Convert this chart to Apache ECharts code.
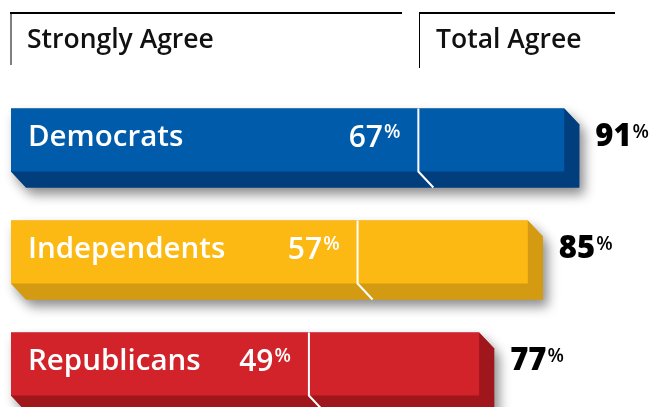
<!DOCTYPE html>
<html>
<head>
<meta charset="utf-8">
<style>
html,body{margin:0;padding:0;background:#fff;}
#chart{width:654px;height:407px;}
</style>
<script src="https://cdn.jsdelivr.net/npm/echarts@6/dist/echarts.min.js"></script>
</head>
<body>
<div id="chart"></div>
<script>
// ---- data ----
const categories = ['Democrats', 'Independents', 'Republicans'];
const stronglyAgree = [67, 57, 49];
const totalAgree = [91, 85, 77];
const headers = ['Strongly Agree', 'Total Agree'];

// ---- styles ----
const frontColors = ['#005BAA', '#FDB913', '#D2232B'];
const darkColors = ['#003E7E', '#D49B12', '#9F161C'];
const DX = 15, DY = 16;
const FONT = '"Open Sans", Lato, sans-serif';

const chart = echarts.init(document.getElementById('chart'), null, {renderer: 'canvas'});

const data = categories.map((c, i) => [i, stronglyAgree[i], totalAgree[i]]);

function renderItem(params, api) {
  const i = api.value(0);
  const s = api.value(1);
  const t = api.value(2);
  const p0 = api.coord([0, i]);
  const ps = api.coord([s, i]);
  const pt = api.coord([t, i]);
  const band = api.size([0, 1])[1];
  const h = band * 0.5625;
  const x0 = p0[0], xs = ps[0], x1 = pt[0];
  const top = p0[1] - h / 2;
  const bot = top + h;
  const front = frontColors[i], dark = darkColors[i];
  const children = [];
  children.push({
    type: 'polygon',
    shape: {points: [[x0, top], [x1, top], [x1 + DX, top + DY], [x1 + DX, bot + DY], [x0 + DX, bot + DY], [x0, bot]]},
    style: {fill: dark, shadowBlur: 12, shadowColor: 'rgba(0,0,0,0.45)', shadowOffsetX: 5, shadowOffsetY: 7}
  });
  children.push({
    type: 'polygon',
    shape: {points: [[x0, bot], [x1, bot], [x1 + DX, bot + DY], [x0 + DX, bot + DY]]},
    style: {fill: dark}
  });
  children.push({
    type: 'polygon',
    shape: {points: [[x1, top], [x1 + DX, top + DY], [x1 + DX, bot + DY], [x1, bot]]},
    style: {fill: dark}
  });
  children.push({
    type: 'rect',
    shape: {x: x0, y: top, width: x1 - x0, height: h},
    style: {fill: front}
  });
  children.push({
    type: 'polyline',
    shape: {points: [[xs, top], [xs, bot], [xs + DX, bot + DY]]},
    style: {stroke: '#ffffff', lineWidth: 2, fill: null}
  });
  const cy = top + h / 2 - 2;
  children.push({
    type: 'text',
    x: x0 + 17, y: cy,
    style: {text: categories[i], fill: '#fff', font: '600 29.5px ' + FONT, verticalAlign: 'middle', align: 'left'}
  });
  children.push({
    type: 'text',
    x: xs - 18, y: cy,
    style: {
      text: '{n|' + s + '}{p|%}',
      align: 'right', verticalAlign: 'middle',
      rich: {
        n: {fill: '#fff', fontFamily: FONT, fontWeight: 600, fontSize: 30, lineHeight: 30, verticalAlign: 'bottom'},
        p: {fill: '#fff', fontFamily: FONT, fontWeight: 600, fontSize: 19, lineHeight: 30, verticalAlign: 'top', padding: [0, 0, 0, 1]}
      }
    }
  });
  children.push({
    type: 'text',
    x: x1 + DX + 16, y: cy,
    style: {
      text: '{n|' + t + '}{p|%}',
      align: 'left', verticalAlign: 'middle',
      rich: {
        n: {fill: '#000', fontFamily: FONT, fontWeight: 800, fontSize: 31, lineHeight: 30, verticalAlign: 'bottom'},
        p: {fill: '#000', fontFamily: FONT, fontWeight: 600, fontSize: 19, lineHeight: 30, verticalAlign: 'top', padding: [0, 0, 0, 1]}
      }
    }
  });
  return {type: 'group', children: children};
}

chart.setOption({
  animation: false,
  backgroundColor: '#fff',
  grid: {left: 11, right: 35, top: 84, height: 336, outerBoundsMode: 'none', containLabel: false},
  xAxis: {type: 'value', min: 0, max: 100, show: false},
  yAxis: {type: 'category', data: categories, inverse: true, show: false},
  graphic: [
    {type: 'line', shape: {x1: 10, y1: 13, x2: 402, y2: 13}, style: {stroke: '#000', lineWidth: 2}},
    {type: 'line', shape: {x1: 11, y1: 13, x2: 11, y2: 65}, style: {stroke: '#000', lineWidth: 1}},
    {type: 'text', x: 27, y: 40, style: {text: headers[0], fill: '#111', font: '600 26.5px ' + FONT, verticalAlign: 'middle'}},
    {type: 'line', shape: {x1: 419, y1: 13, x2: 615, y2: 13}, style: {stroke: '#000', lineWidth: 2}},
    {type: 'line', shape: {x1: 419.5, y1: 13, x2: 419.5, y2: 68}, style: {stroke: '#000', lineWidth: 1}},
    {type: 'text', x: 436, y: 40, style: {text: headers[1], fill: '#111', font: '600 26.5px ' + FONT, verticalAlign: 'middle'}}
  ],
  series: [{
    type: 'custom',
    renderItem: renderItem,
    data: data,
    encode: {x: [1, 2], y: 0}
  }]
});
</script>
</body>
</html>
